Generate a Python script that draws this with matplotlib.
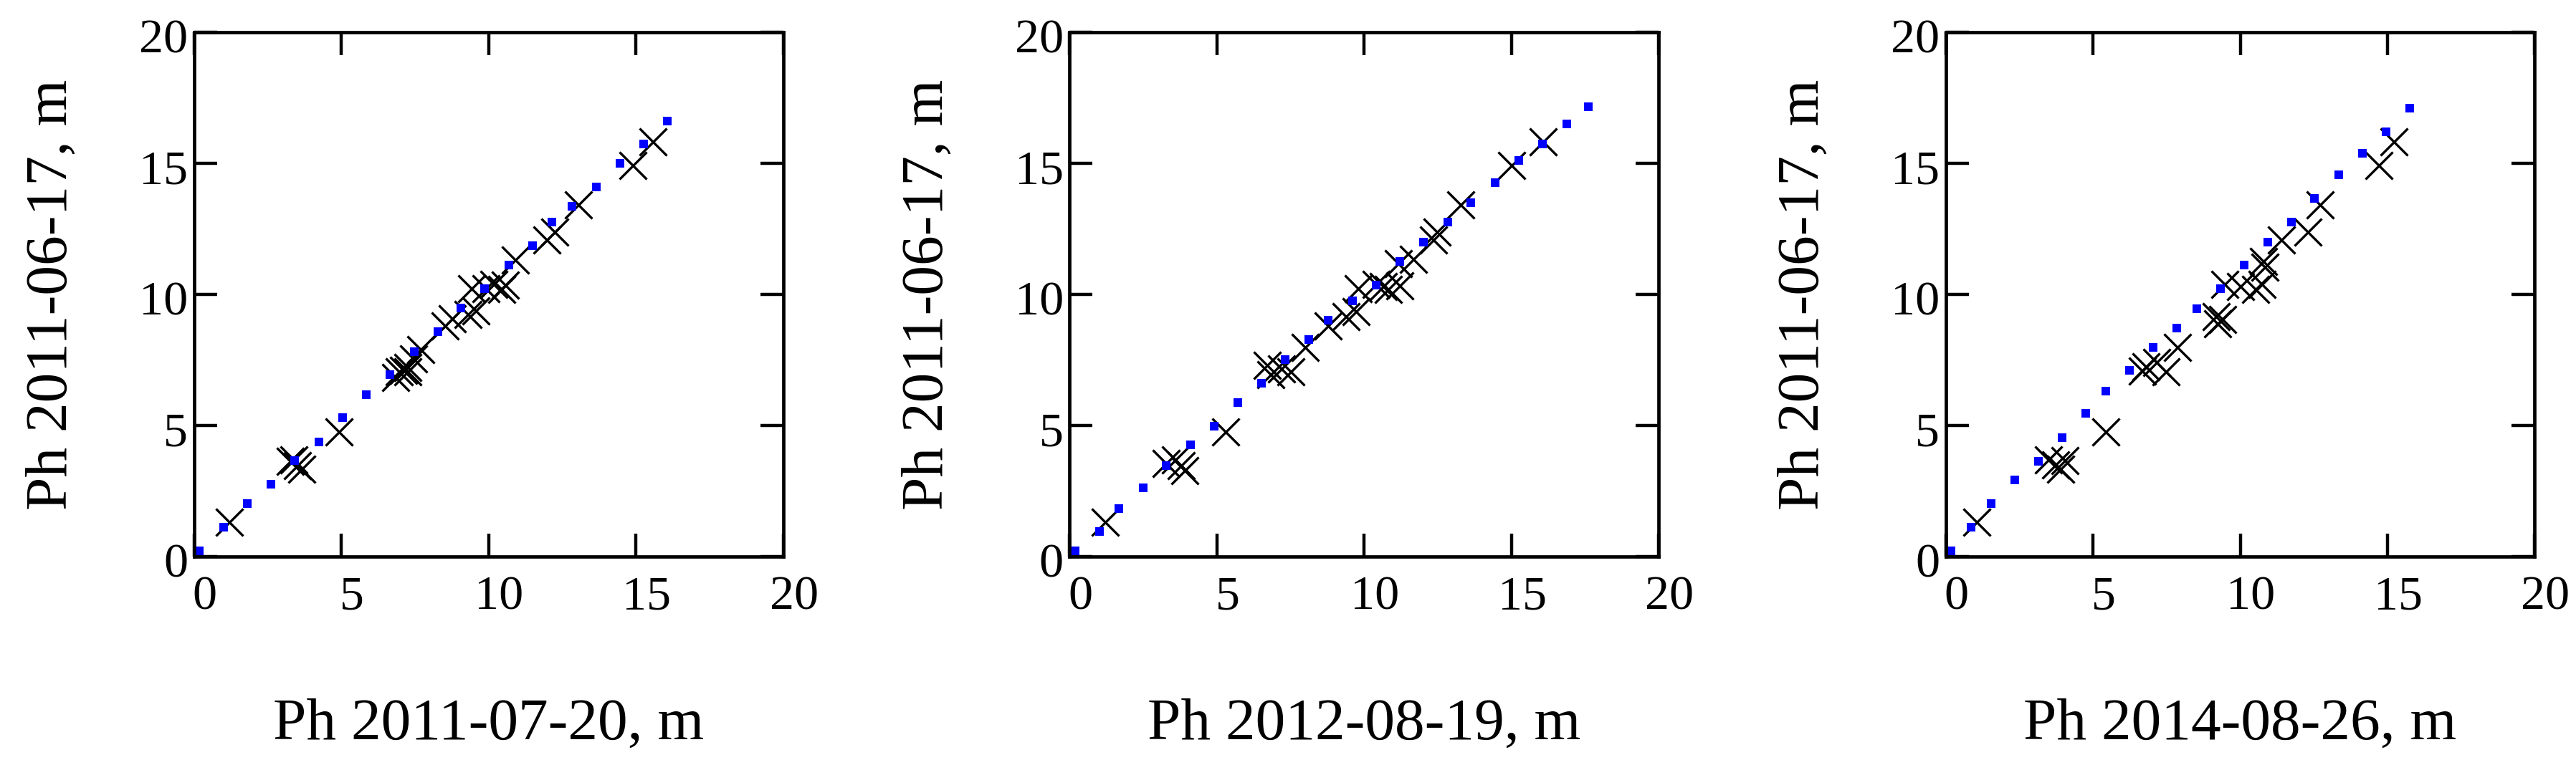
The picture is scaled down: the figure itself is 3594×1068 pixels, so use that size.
import numpy as np
import matplotlib.pyplot as plt
from matplotlib.transforms import ScaledTranslation

plt.rcParams['font.family'] = ['Liberation Serif', 'DejaVu Serif']

# Common axis label
y_label = "Ph 2011-06-17, m"
x_labels = ["Ph 2011-07-20, m", "Ph 2012-08-19, m", "Ph 2014-08-26, m"]
ticks = [0, 5, 10, 15, 20]

# Measured points (black crosses), panel 1
x1 = [1.19, 3.26, 3.40, 3.52, 3.65, 4.92, 6.85, 6.98, 7.12, 7.25, 7.25, 7.45, 7.70,
      8.52, 8.78, 9.30, 9.57, 9.42, 9.91, 10.19, 10.44, 10.58, 10.92, 11.97, 12.24,
      13.04, 14.91, 15.57]
y1 = [1.31, 3.63, 3.70, 3.48, 3.32, 4.75, 6.84, 7.06, 7.10, 7.20, 7.06, 7.55, 7.90,
      8.79, 9.08, 9.23, 9.38, 10.21, 10.21, 10.37, 10.20, 10.35, 11.30, 12.07, 12.37,
      13.42, 14.92, 15.81]

# panel 2
x2 = [1.20, 3.27, 3.59, 3.80, 3.92, 5.31, 6.72, 6.84, 7.20, 7.51, 8.01, 8.77, 9.39,
      9.72, 9.79, 10.42, 10.65, 10.82, 11.22, 11.17, 11.68, 12.35, 12.48, 13.28,
      15.00, 16.07]
y2 = [1.31, 3.56, 3.70, 3.47, 3.29, 4.74, 7.30, 6.93, 7.15, 7.06, 7.98, 8.79, 9.16,
      9.34, 10.21, 10.37, 10.29, 10.19, 10.34, 11.17, 11.33, 12.08, 12.37, 13.42,
      14.93, 15.81]

# panel 3
x3 = [1.06, 3.49, 3.73, 3.90, 4.04, 5.43, 6.69, 6.81, 7.17, 7.48, 7.88, 9.19, 9.24,
      9.40, 9.47, 10.00, 10.53, 10.73, 10.79, 10.85, 11.39, 12.31, 12.71, 14.70, 15.22]
y3 = [1.31, 3.70, 3.51, 3.32, 3.65, 4.74, 7.07, 7.23, 7.39, 7.06, 7.98, 9.16, 8.89,
      9.03, 10.37, 10.30, 10.20, 10.39, 11.26, 11.03, 12.07, 12.37, 13.42, 14.93, 15.81]

# Regression line, drawn as blue dots
fit1_x = [0.19, 1.00, 1.80, 2.62, 3.41, 4.24, 5.04, 5.84, 6.65, 7.47, 8.27, 9.07, 9.87,
          10.69, 11.49, 12.16, 12.83, 13.65, 14.46, 15.26, 16.06]
fit1_y = [0.23, 1.11, 2.01, 2.75, 3.66, 4.38, 5.29, 6.18, 6.93, 7.81, 8.57, 9.47, 10.22,
          11.13, 11.87, 12.75, 13.37, 14.09, 15.00, 15.74, 16.61]

fit2_x = [0.20, 1.01, 1.68, 2.49, 3.29, 4.11, 4.91, 5.72, 6.52, 7.31, 8.12, 8.79, 9.60,
          10.41, 11.21, 12.01, 12.83, 13.63, 14.44, 15.25, 16.05, 16.87, 17.60]
fit2_y = [0.23, 0.95, 1.84, 2.61, 3.48, 4.25, 4.98, 5.88, 6.60, 7.52, 8.28, 9.02, 9.75,
          10.36, 11.25, 12.00, 12.77, 13.50, 14.27, 15.11, 15.74, 16.50, 17.17]

fit3_x = [0.17, 0.87, 1.55, 2.35, 3.15, 3.95, 4.76, 5.43, 6.23, 7.05, 7.84, 8.52, 9.32,
          10.13, 10.93, 11.73, 12.53, 13.35, 14.16, 14.95, 15.76]
fit3_y = [0.23, 1.11, 2.01, 2.91, 3.64, 4.54, 5.45, 6.32, 7.09, 7.98, 8.72, 9.46, 10.22,
          11.13, 12.00, 12.77, 13.66, 14.55, 15.38, 16.20, 17.09]

panels = [
    (x1, y1, fit1_x, fit1_y),
    (x2, y2, fit2_x, fit2_y),
    (x3, y3, fit3_x, fit3_y),
]

fig = plt.figure(figsize=(35.94, 10.68), dpi=100)
lefts = [0.0753, 0.4152, 0.7553]

for i, (px, py, fx, fy) in enumerate(panels):
    ax = fig.add_axes([lefts[i], 0.2725, 0.2287, 0.6854])
    ax.plot(px, py, linestyle='none', marker='x', markersize=27,
            markeredgewidth=2.4, color='black')
    ax.plot(fx, fy, linestyle='none', marker='s', markersize=8,
            markeredgewidth=0, color='#0000ff')

    ax.set_xlim(0, 20)
    ax.set_ylim(0, 20)
    ax.set_xticks(ticks)
    ax.set_yticks(ticks)
    ax.tick_params(direction='in', length=23, width=3.2, top=True, right=True,
                   labelsize=49, color='black')
    ax.tick_params(axis='x', pad=19)
    ax.tick_params(axis='y', pad=6)
    for s in ax.spines.values():
        s.set_linewidth(3.4)

    # Mathcad shifts tick numbers a little
    for lab in ax.get_xticklabels():
        lab.set_transform(lab.get_transform() + ScaledTranslation(0.15, 0, fig.dpi_scale_trans))
    for lab in ax.get_yticklabels():
        lab.set_transform(lab.get_transform() + ScaledTranslation(0, -0.05, fig.dpi_scale_trans))

    ax.set_xlabel(x_labels[i], fontsize=60, va='baseline')
    ax.xaxis.set_label_coords(0.5, -0.348)
    ax.set_ylabel(y_label, fontsize=60, va='baseline', rotation_mode='anchor')
    ax.yaxis.set_label_coords(-0.216, 0.5)

fig.savefig('out.png', dpi=100)
